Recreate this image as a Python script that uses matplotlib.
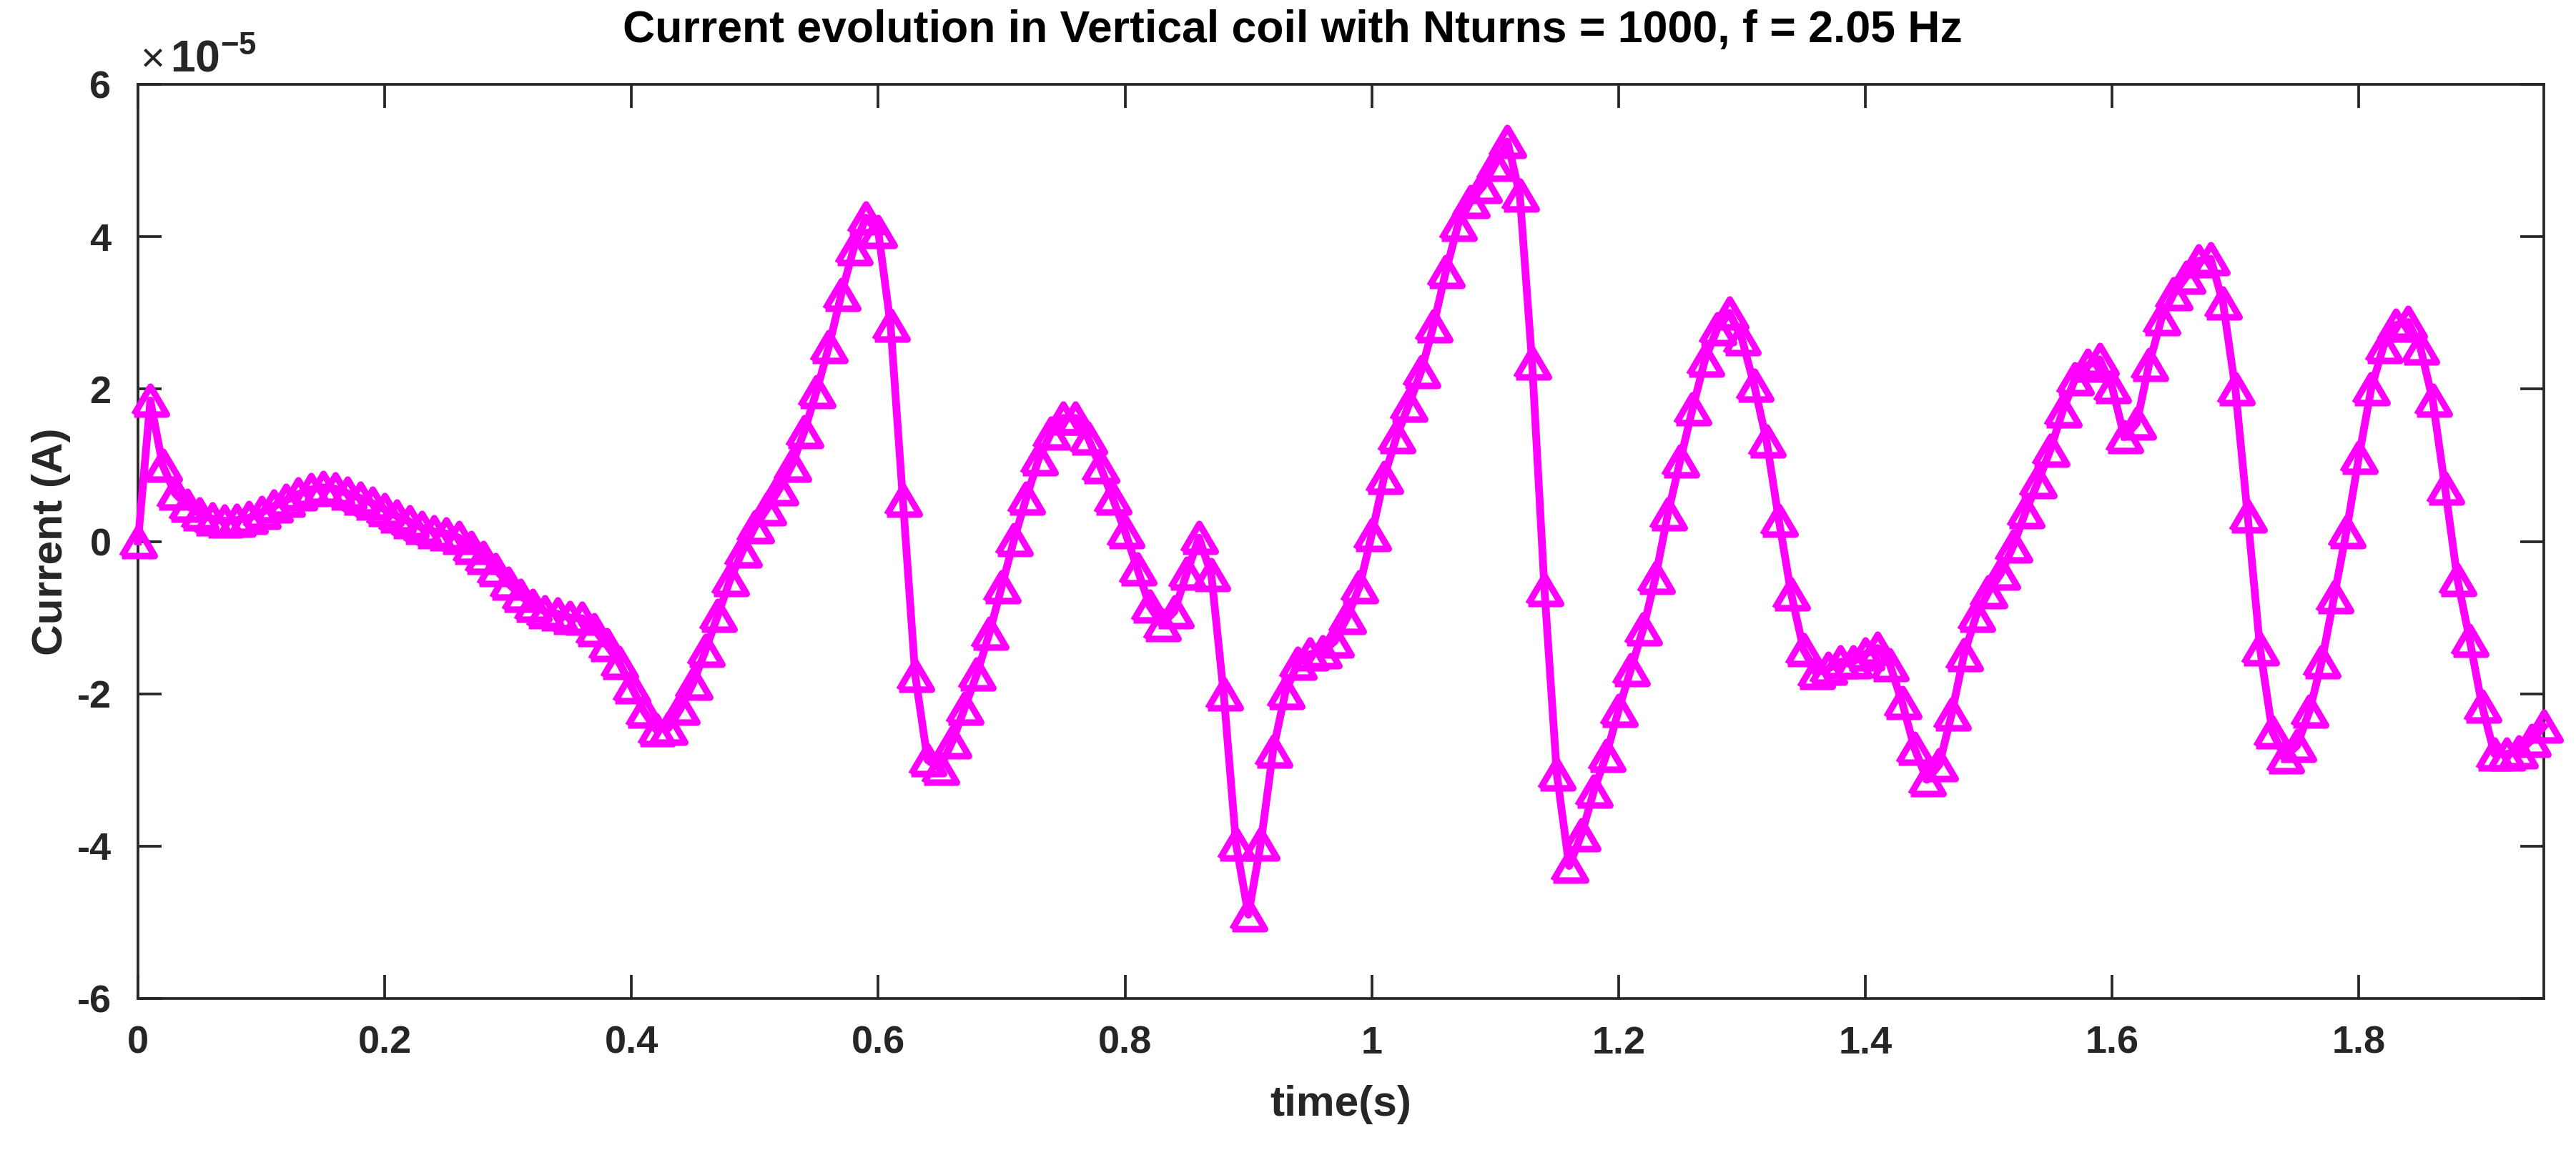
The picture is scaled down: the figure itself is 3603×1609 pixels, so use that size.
import numpy as np
import matplotlib
matplotlib.use("Agg")
import matplotlib.pyplot as plt
from matplotlib.ticker import FuncFormatter

plt.rcParams['font.family'] = ['Liberation Sans', 'DejaVu Sans']
plt.rcParams['mathtext.fontset'] = 'custom'
plt.rcParams['mathtext.rm'] = 'Liberation Sans'
plt.rcParams['mathtext.bf'] = 'Liberation Sans:bold'

# sample times (s), step 0.01 s
time_s = np.round(np.arange(196) * 0.01, 2)

# current in units of 1e-5 A
current_e5 = [
    0.00, 1.85, 1.00, 0.63, 0.47, 0.36, 0.30, 0.27, 0.28, 0.31,
    0.38, 0.46, 0.54, 0.62, 0.68, 0.71, 0.69, 0.63, 0.57, 0.50,
    0.42, 0.33, 0.26, 0.18, 0.13, 0.10, 0.05, -0.08, -0.21, -0.37,
    -0.55, -0.71, -0.84, -0.92, -0.95, -1.00, -1.01, -1.16, -1.36, -1.59,
    -1.91, -2.23, -2.47, -2.45, -2.19, -1.86, -1.43, -0.97, -0.50, -0.13,
    0.19, 0.43, 0.69, 1.00, 1.44, 1.97, 2.56, 3.24, 3.84, 4.25,
    4.07, 2.84, 0.54, -1.76, -2.87, -2.98, -2.63, -2.19, -1.74, -1.21,
    -0.60, 0.02, 0.57, 1.08, 1.42, 1.62, 1.62, 1.36, 0.98, 0.57,
    0.13, -0.36, -0.85, -1.09, -0.92, -0.42, 0.05, -0.44, -2.00, -3.97,
    -4.90, -3.97, -2.75, -1.98, -1.60, -1.48, -1.45, -1.31, -1.00, -0.60,
    0.09, 0.84, 1.37, 1.79, 2.23, 2.83, 3.54, 4.16, 4.46, 4.66,
    4.95, 5.25, 4.55, 2.34, -0.63, -3.05, -4.26, -3.85, -3.28, -2.81,
    -2.22, -1.68, -1.15, -0.47, 0.36, 1.06, 1.74, 2.38, 2.79, 3.00,
    2.66, 2.05, 1.32, 0.28, -0.69, -1.42, -1.72, -1.67, -1.58, -1.58,
    -1.48, -1.40, -1.62, -2.12, -2.72, -3.13, -2.93, -2.27, -1.49, -0.97,
    -0.66, -0.42, -0.06, 0.39, 0.78, 1.20, 1.71, 2.13, 2.31, 2.39,
    2.03, 1.37, 1.55, 2.32, 2.92, 3.25, 3.47, 3.68, 3.71, 3.13,
    2.00, 0.33, -1.41, -2.50, -2.83, -2.68, -2.23, -1.58, -0.73, 0.13,
    1.10, 2.00, 2.56, 2.84, 2.88, 2.54, 1.85, 0.70, -0.50, -1.30,
    -2.16, -2.79, -2.79, -2.76, -2.61, -2.43,
]
current_A = np.array(current_e5) * 1e-5

x_ticks = [0, 0.2, 0.4, 0.6, 0.8, 1.0, 1.2, 1.4, 1.6, 1.8]
y_ticks_e5 = [-6, -4, -2, 0, 2, 4, 6]

title_text = 'Current evolution in Vertical coil with Nturns = 1000, f = 2.05 Hz'
xlabel_text = 'time(s)'
ylabel_text = 'Current (A)'

fig = plt.figure(figsize=(3603 / 300, 1609 / 300), dpi=300)
ax = fig.add_axes([193 / 3603, 1 - 1397 / 1609, (3558 - 193) / 3603, (1397 - 118) / 1609])

tri = [(-1.0, -0.85), (1.0, -0.85), (0.0, 0.85), (-1.0, -0.85)]
ax.plot(time_s, current_A, color='#FF00FF', linewidth=2.6,
        marker=tri, markersize=11, markerfacecolor='none',
        markeredgecolor='#FF00FF', markeredgewidth=2.2, clip_on=False, zorder=3)

ax.set_xlim(0, 1.95)
ax.set_ylim(-6e-5, 6e-5)
ax.set_xticks(x_ticks)
ax.set_yticks(np.array(y_ticks_e5) * 1e-5)
ax.xaxis.set_major_formatter(FuncFormatter(lambda v, p: ('%g' % round(v, 2))))
ax.yaxis.set_major_formatter(FuncFormatter(lambda v, p: ('%d' % round(v / 1e-5))))

axcol = '#262626'
for s in ax.spines.values():
    s.set_color(axcol)
    s.set_linewidth(0.9)
ax.tick_params(direction='in', length=8, width=0.9, colors=axcol,
               top=True, right=True, labelsize=13, pad=9)
for lab in ax.get_xticklabels() + ax.get_yticklabels():
    lab.set_fontweight('bold')
    lab.set_color('#262626')

ax.text(0.480, 1.0 + 76 / 1279, title_text, transform=ax.transAxes,
        fontsize=15, fontweight='bold', color='black', ha='center', va='center')
ax.set_xlabel(xlabel_text, fontsize=14.5, fontweight='bold', color='#262626', labelpad=8)
ax.set_ylabel(ylabel_text, fontsize=14.5, fontweight='bold', color='#262626', labelpad=2)

ax.text(0.001, 1.006, r'$\times$', transform=ax.transAxes, fontsize=14,
        ha='left', va='bottom', color='#262626')
ax.text(0.0135, 1.004, r'$\mathbf{10^{-5}}$', transform=ax.transAxes, fontsize=15,
        ha='left', va='bottom', color='#262626')

fig.savefig('out.png', dpi=300, facecolor='white')
